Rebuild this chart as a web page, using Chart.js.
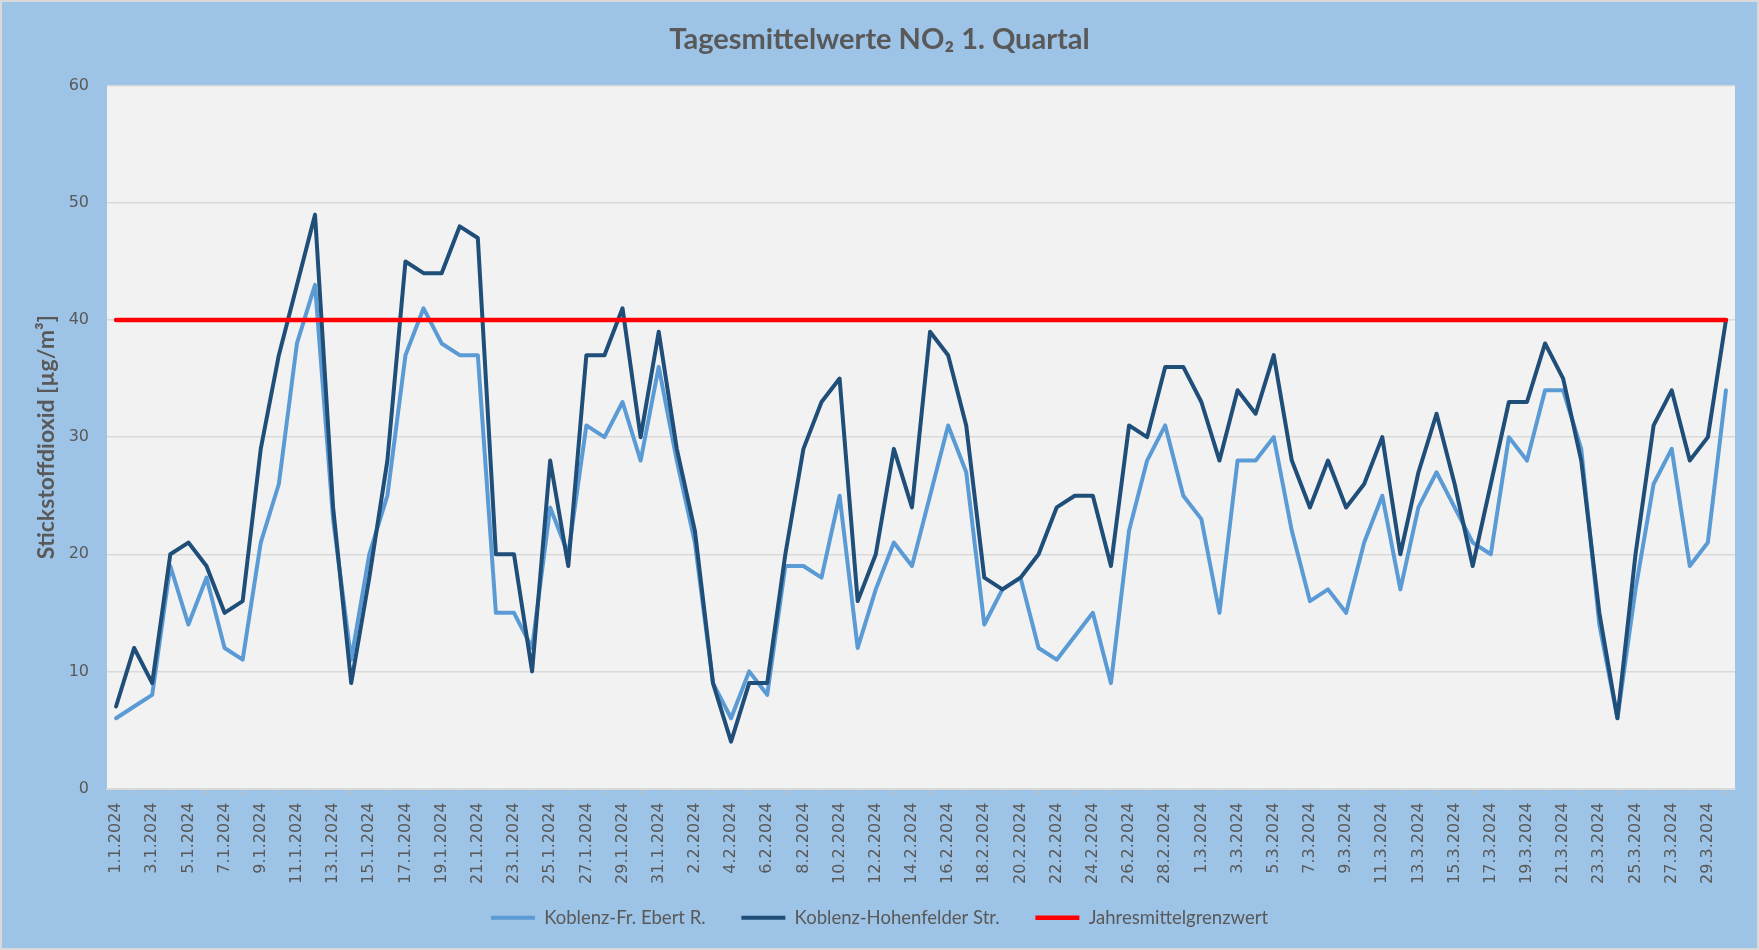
<!DOCTYPE html>
<html>
<head>
<meta charset="utf-8">
<script src="https://cdn.jsdelivr.net/npm/chart.js@4"></script>
<style>
  html, body { margin: 0; padding: 0; background: #9DC3E6; }
  #wrap { width: 1759px; height: 950px; }
</style>
</head>
<body>
<div id="wrap"><canvas id="no2-chart" width="1759" height="950"></canvas></div>
<script>
// Tage 1.1.2024 - 30.3.2024
const days = [
  "1.1.2024","2.1.2024","3.1.2024","4.1.2024","5.1.2024","6.1.2024","7.1.2024","8.1.2024","9.1.2024","10.1.2024",
  "11.1.2024","12.1.2024","13.1.2024","14.1.2024","15.1.2024","16.1.2024","17.1.2024","18.1.2024","19.1.2024","20.1.2024",
  "21.1.2024","22.1.2024","23.1.2024","24.1.2024","25.1.2024","26.1.2024","27.1.2024","28.1.2024","29.1.2024","30.1.2024",
  "31.1.2024","1.2.2024","2.2.2024","3.2.2024","4.2.2024","5.2.2024","6.2.2024","7.2.2024","8.2.2024","9.2.2024",
  "10.2.2024","11.2.2024","12.2.2024","13.2.2024","14.2.2024","15.2.2024","16.2.2024","17.2.2024","18.2.2024","19.2.2024",
  "20.2.2024","21.2.2024","22.2.2024","23.2.2024","24.2.2024","25.2.2024","26.2.2024","27.2.2024","28.2.2024","29.2.2024",
  "1.3.2024","2.3.2024","3.3.2024","4.3.2024","5.3.2024","6.3.2024","7.3.2024","8.3.2024","9.3.2024","10.3.2024",
  "11.3.2024","12.3.2024","13.3.2024","14.3.2024","15.3.2024","16.3.2024","17.3.2024","18.3.2024","19.3.2024","20.3.2024",
  "21.3.2024","22.3.2024","23.3.2024","24.3.2024","25.3.2024","26.3.2024","27.3.2024","28.3.2024","29.3.2024","30.3.2024"
];

const ebertRing = [
  6, 7, 8, 19, 14, 18, 12, 11, 21, 26,
  38, 43, 23, 11, 20, 25, 37, 41, 38, 37,
  37, 15, 15, 12, 24, 20, 31, 30, 33, 28,
  36, 28, 21, 9, 6, 10, 8, 19, 19, 18,
  25, 12, 17, 21, 19, 25, 31, 27, 14, 17,
  18, 12, 11, 13, 15, 9, 22, 28, 31, 25,
  23, 15, 28, 28, 30, 22, 16, 17, 15, 21,
  25, 17, 24, 27, 24, 21, 20, 30, 28, 34,
  34, 29, 14, 6, 17, 26, 29, 19, 21, 34
];

const hohenfelder = [
  7, 12, 9, 20, 21, 19, 15, 16, 29, 37,
  43, 49, 24, 9, 18, 28, 45, 44, 44, 48,
  47, 20, 20, 10, 28, 19, 37, 37, 41, 30,
  39, 29, 22, 9, 4, 9, 9, 20, 29, 33,
  35, 16, 20, 29, 24, 39, 37, 31, 18, 17,
  18, 20, 24, 25, 25, 19, 31, 30, 36, 36,
  33, 28, 34, 32, 37, 28, 24, 28, 24, 26,
  30, 20, 27, 32, 26, 19, 26, 33, 33, 38,
  35, 28, 15, 6, 20, 31, 34, 28, 30, 40
];

const grenzwert = days.map(() => 40);
const yTicks = [0, 10, 20, 30, 40, 50, 60];

const grey = '#595959';
const legendGap = '     '; // extra room between legend entries

const background = {
  id: 'background',
  beforeDraw(chart) {
    const { ctx, chartArea: a, width, height } = chart;
    ctx.save();
    ctx.fillStyle = '#9DC3E6';
    ctx.fillRect(0, 0, width, height);
    ctx.fillStyle = '#F2F2F2';
    ctx.fillRect(a.left, a.top, a.right - a.left, a.bottom - a.top);
    ctx.strokeStyle = '#D9D9D9';
    ctx.lineWidth = 2;
    ctx.strokeRect(1, 1, width - 2, height - 2);
    ctx.restore();
  }
};

new Chart(document.getElementById('no2-chart'), {
  type: 'line',
  data: {
    labels: days,
    datasets: [
      {
        label: 'Koblenz-Fr. Ebert R.',
        data: ebertRing,
        borderColor: '#5B9BD5',
        backgroundColor: '#5B9BD5',
        borderWidth: 4,
        borderCapStyle: 'round',
        borderJoinStyle: 'round',
        order: 3
      },
      {
        label: 'Koblenz-Hohenfelder Str.',
        data: hohenfelder,
        borderColor: '#1F4E79',
        backgroundColor: '#1F4E79',
        borderWidth: 4,
        borderCapStyle: 'round',
        borderJoinStyle: 'round',
        order: 2
      },
      {
        label: 'Jahresmittelgrenzwert',
        data: grenzwert,
        borderColor: '#FF0000',
        backgroundColor: '#FF0000',
        borderWidth: 4.5,
        borderCapStyle: 'round',
        order: 1
      }
    ]
  },
  options: {
    responsive: false,
    animation: false,
    elements: { point: { radius: 0, hoverRadius: 0 }, line: { tension: 0 } },
    layout: { padding: { left: 0, right: 0, top: 0, bottom: 13 } },
    plugins: {
      title: {
        display: true,
        text: 'Tagesmittelwerte NO₂ 1. Quartal',
        color: grey,
        font: { family: 'Lato', size: 29, weight: 'bold' },
        padding: { top: 22, bottom: 29 }
      },
      legend: {
        position: 'bottom',
        labels: {
          usePointStyle: true,
          pointStyle: 'line',
          pointStyleWidth: 44,
          color: grey,
          font: { family: 'Lato', size: 18.5 },
          padding: 12,
          sort: (a, b) => a.datasetIndex - b.datasetIndex,
          generateLabels(chart) {
            const items = Chart.defaults.plugins.legend.labels.generateLabels(chart);
            items.forEach(it => { if (it.datasetIndex < 2) it.text += legendGap; });
            return items;
          }
        }
      },
      tooltip: { enabled: false }
    },
    scales: {
      x: {
        offset: true,
        grid: { offset: true, drawOnChartArea: false, drawTicks: true, tickLength: 6, color: '#BFBFBF', lineWidth: 1.5 },
        border: { display: true, color: '#D9D9D9', width: 2 },
        ticks: {
          autoSkip: false,
          maxRotation: 90,
          minRotation: 90,
          padding: 8,
          color: grey,
          font: { family: 'DejaVu Sans', size: 16 },
          callback: (v, i) => (i % 2 === 0 ? days[i] : null)
        },
        afterFit: s => { s.height = 108; }
      },
      y: {
        min: yTicks[0],
        max: yTicks[yTicks.length - 1],
        grid: { color: '#D9D9D9', lineWidth: 1.5, drawTicks: false },
        border: { display: false },
        ticks: {
          stepSize: yTicks[1] - yTicks[0],
          padding: 18,
          color: grey,
          font: { family: 'DejaVu Sans', size: 16 }
        },
        title: {
          display: true,
          text: 'Stickstoffdioxid [µg/m³]',
          color: grey,
          font: { family: 'Lato', size: 23, weight: 'bold' },
          padding: { top: 33, bottom: 0 }
        },
        afterFit: s => { s.width = 107; }
      },
      // leerer Rand rechts neben der Zeichenfläche
      rand: {
        type: 'linear',
        position: 'right',
        grid: { display: false },
        border: { display: false },
        ticks: { display: false },
        afterFit: s => { s.width = 24; }
      }
    }
  },
  plugins: [background]
});
</script>
</body>
</html>
